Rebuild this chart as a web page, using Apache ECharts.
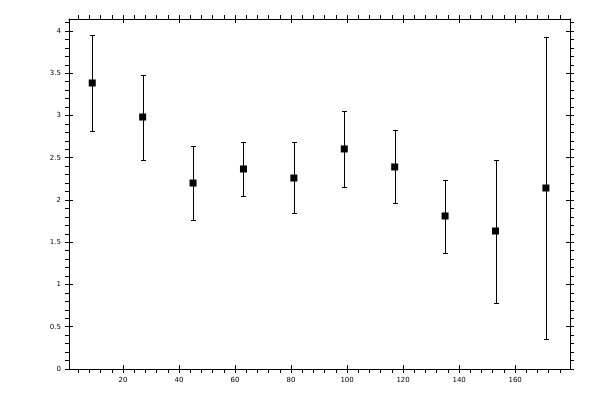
<!DOCTYPE html>
<html>
<head>
<meta charset="utf-8">
<script src="https://cdn.jsdelivr.net/npm/echarts@6/dist/echarts.min.js"></script>
<style>
html,body{margin:0;padding:0;background:#fff;}
#chart{width:600px;height:400px;}
</style>
</head>
<body>
<div id="chart"></div>
<script>
// ---- data ----
var xValues  = [9, 27, 45, 63, 81, 99, 117, 135, 153, 171];
var yValues  = [3.385, 2.982, 2.201, 2.367, 2.260, 2.604, 2.391, 1.811, 1.633, 2.142];
var lowValues  = [2.817, 2.473, 1.763, 2.047, 1.846, 2.154, 1.964, 1.373, 0.781, 0.355];
var highValues = [3.953, 3.475, 2.639, 2.686, 2.686, 3.053, 2.828, 2.237, 2.473, 3.924];

// tick labels
var xTickLabels = [20, 40, 60, 80, 100, 120, 140, 160];
var yTickLabels = [0, 0.5, 1, 1.5, 2, 2.5, 3, 3.5, 4];

// minor tick steps
var xMinorStep = 4;
var yMinorStep = 0.1;

var xMin = 0.7, xMax = 179.6;
var yMin = 0, yMax = 4.142;

var xAllTicks = [];
for (var i = 1; i * xMinorStep < xMax; i++) xAllTicks.push(i * xMinorStep);
var yAllTicks = [];
for (var j = 0; j * yMinorStep < yMax; j++) yAllTicks.push(Math.round(j * yMinorStep * 10) / 10);

var FONT = 'DejaVu Sans';
var black = '#000';

function xAxisDef(grid, pos, outer) {
  return {
    type: 'value', gridIndex: grid, position: pos, min: xMin, max: xMax,
    axisLine: { show: outer, onZero: false, lineStyle: { color: black, width: 1 } },
    axisTick: { show: true, inside: !outer, length: 4, lineStyle: { color: black, width: 1 },
                customValues: outer ? xAllTicks : xTickLabels },
    axisLabel: (outer && pos === 'bottom') ? {
      show: true, customValues: xTickLabels, color: black, fontSize: 7, fontFamily: FONT, margin: 8
    } : { show: false },
    splitLine: { show: false }, minorTick: { show: false }, minorSplitLine: { show: false }
  };
}
function yAxisDef(grid, pos, outer) {
  return {
    type: 'value', gridIndex: grid, position: pos, min: yMin, max: yMax,
    axisLine: { show: outer, onZero: false, lineStyle: { color: black, width: 1 } },
    axisTick: { show: true, inside: !outer, length: 4, lineStyle: { color: black, width: 1 },
                customValues: outer ? yAllTicks : yTickLabels },
    axisLabel: (outer && pos === 'left') ? {
      show: true, customValues: yTickLabels, color: black, fontSize: 7, fontFamily: FONT, margin: 8
    } : { show: false },
    splitLine: { show: false }, minorTick: { show: false }, minorSplitLine: { show: false }
  };
}

var gridBox = { left: 69, top: 19, width: 501, height: 350, containLabel: false, outerBoundsMode: 'none', show: false };

var chart = echarts.init(document.getElementById('chart'), null, { renderer: 'canvas' });
chart.setOption({
  backgroundColor: '#fff',
  animation: false,
  grid: [Object.assign({}, gridBox), Object.assign({}, gridBox)],
  xAxis: [
    xAxisDef(0, 'bottom', true),
    xAxisDef(0, 'top', true),
    xAxisDef(1, 'bottom', false),
    xAxisDef(1, 'top', false)
  ],
  yAxis: [
    yAxisDef(0, 'left', true),
    yAxisDef(0, 'right', true),
    yAxisDef(1, 'left', false),
    yAxisDef(1, 'right', false)
  ],
  series: [
    {
      type: 'custom',
      xAxisIndex: 0, yAxisIndex: 0,
      data: xValues.map(function (x, k) { return [x, lowValues[k], highValues[k]]; }),
      renderItem: function (params, api) {
        var lo = api.coord([api.value(0), api.value(1)]);
        var hi = api.coord([api.value(0), api.value(2)]);
        var cx = Math.round(lo[0]) + 0.5;
        var yl = Math.round(lo[1]) + 0.5, yh = Math.round(hi[1]) + 0.5;
        var hw = 2.5;
        var st = { stroke: black, lineWidth: 1 };
        return {
          type: 'group',
          children: [
            { type: 'line', shape: { x1: cx, y1: yl, x2: cx, y2: yh }, style: st },
            { type: 'line', shape: { x1: cx - hw, y1: yl, x2: cx + hw, y2: yl }, style: st },
            { type: 'line', shape: { x1: cx - hw, y1: yh, x2: cx + hw, y2: yh }, style: st }
          ]
        };
      },
      z: 2
    },
    {
      type: 'scatter',
      xAxisIndex: 0, yAxisIndex: 0,
      data: xValues.map(function (x, k) { return [x, yValues[k]]; }),
      symbol: 'rect',
      symbolSize: 7,
      itemStyle: { color: black, opacity: 1 },
      z: 3
    }
  ]
});
</script>
</body>
</html>
